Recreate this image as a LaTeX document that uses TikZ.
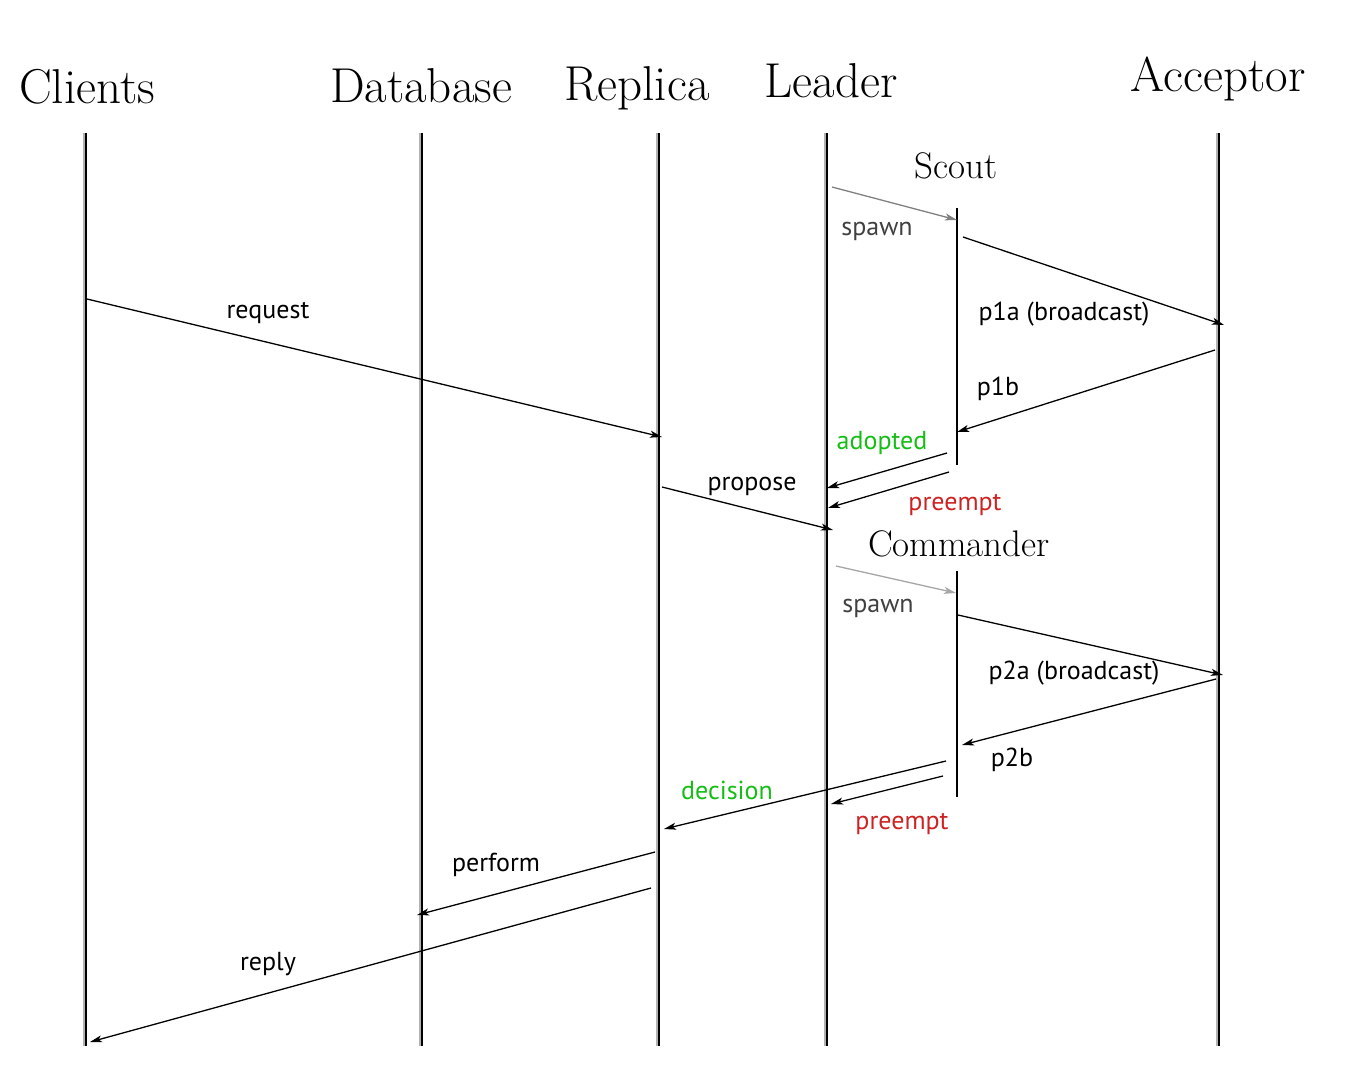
\documentclass[tikz,border=0pt]{standalone}
\usepackage{fontspec}
\setsansfont{PT Sans}
\usetikzlibrary{arrows.meta}
\definecolor{okgreen}{RGB}{20,190,20}
\definecolor{badred}{RGB}{205,35,35}
\tikzset{
  head/.style={font=\fontsize{49}{55}\selectfont, anchor=base, inner sep=0pt},
  subhead/.style={font=\fontsize{37}{42}\selectfont, anchor=base, inner sep=0pt},
  lbl/.style={font=\sffamily\fontsize{26}{30}\selectfont, inner sep=0pt},
  msg/.style={line width=1.3pt, -{Stealth[length=12pt, width=7pt, inset=3pt]}},
  life/.style={line width=2pt},
  shade/.style={line width=1.6pt, gray!60}
}
\begin{document}
\begin{tikzpicture}[x=1pt, y=-1pt]
\useasboundingbox (0, 0) rectangle (1354, 1076);
%Heads
\node[head] (clients) at (87, 103) {Clients};
\node[head] (database) at (421, 102) {Database};
\node[head] (replica) at (637, 100) {Replica};
\node[head] (leader) at (831, 97) {Leader};
\node[head] (acceptor) at (1218, 91) {Acceptor};
%Lifelines
\draw[shade] (84, 133) -- (84, 1046);
\draw[life] (86, 133) -- (86, 1046);
\draw[shade] (420, 133) -- (420, 1046);
\draw[life] (422, 133) -- (422, 1046);
\draw[shade] (657, 133) -- (657, 1046);
\draw[life] (659, 133) -- (659, 1046);
\draw[shade] (825, 133) -- (825, 1046);
\draw[life] (827, 133) -- (827, 1046);
\draw[shade] (1217, 133) -- (1217, 1046);
\draw[life] (1219, 133) -- (1219, 1046);
%Scout
\node[subhead] (scout) at (956, 178) {Scout};
\draw[life] (957, 208) -- (957, 465);
\coordinate (spawnA-s) at (832, 187);
\coordinate (spawnA-e) at (957, 220);
\draw[msg, gray] (spawnA-s) -- (spawnA-e);
\node[lbl, black!75] (spawnA) at (877, 231) {spawn};
\coordinate (p1a-s) at (963, 237);
\coordinate (p1a-e) at (1224, 325);
\draw[msg] (p1a-s) -- (p1a-e);
\node[lbl] (p1a) at (1064, 314) {p1a (broadcast)};
\coordinate (p1b-s) at (1215, 350);
\coordinate (p1b-e) at (957, 432);
\draw[msg] (p1b-s) -- (p1b-e);
\node[lbl] (p1b) at (998, 389) {p1b};
\coordinate (adopted-s) at (947, 453);
\coordinate (adopted-e) at (827, 488);
\draw[msg] (adopted-s) -- (adopted-e);
\node[lbl, okgreen] (adopted) at (882, 443) {adopted};
\coordinate (preemptA-s) at (949, 472);
\coordinate (preemptA-e) at (828, 508);
\draw[msg] (preemptA-s) -- (preemptA-e);
\node[lbl, badred] (preemptA) at (955, 505) {preempt};
%Client and replica
\coordinate (request-s) at (87, 299);
\coordinate (request-e) at (662, 437);
\draw[msg] (request-s) -- (request-e);
\node[lbl] (request) at (268, 313) {request};
\coordinate (propose-s) at (662, 487);
\coordinate (propose-e) at (833, 530);
\draw[msg] (propose-s) -- (propose-e);
\node[lbl] (propose) at (752, 486) {propose};
%Commander
\node[subhead] (commander) at (959, 556) {Commander};
\draw[life] (957, 571) -- (957, 797);
\coordinate (spawnB-s) at (836, 566);
\coordinate (spawnB-e) at (956, 593);
\draw[msg, gray!70] (spawnB-s) -- (spawnB-e);
\node[lbl, black!75] (spawnB) at (878, 608) {spawn};
\coordinate (p2a-s) at (958, 615);
\coordinate (p2a-e) at (1223, 675);
\draw[msg] (p2a-s) -- (p2a-e);
\node[lbl] (p2a) at (1074, 673) {p2a (broadcast)};
\coordinate (p2b-s) at (1216, 679);
\coordinate (p2b-e) at (962, 745);
\draw[msg] (p2b-s) -- (p2b-e);
\node[lbl] (p2b) at (1012, 760) {p2b};
\coordinate (decision-s) at (946, 761);
\coordinate (decision-e) at (664, 829);
\draw[msg] (decision-s) -- (decision-e);
\node[lbl, okgreen] (decision) at (727, 790) {decision};
\coordinate (preemptB-s) at (943, 776);
\coordinate (preemptB-e) at (831, 804);
\draw[msg] (preemptB-s) -- (preemptB-e);
\node[lbl, badred] (preemptB) at (902, 824) {preempt};
%Replica to database and clients
\coordinate (perform-s) at (655, 852);
\coordinate (perform-e) at (417, 915);
\draw[msg] (perform-s) -- (perform-e);
\node[lbl] (perform) at (496, 865) {perform};
\coordinate (reply-s) at (651, 888);
\coordinate (reply-e) at (90, 1042);
\draw[msg] (reply-s) -- (reply-e);
\node[lbl] (reply) at (268, 964) {reply};
\end{tikzpicture}
\end{document}
